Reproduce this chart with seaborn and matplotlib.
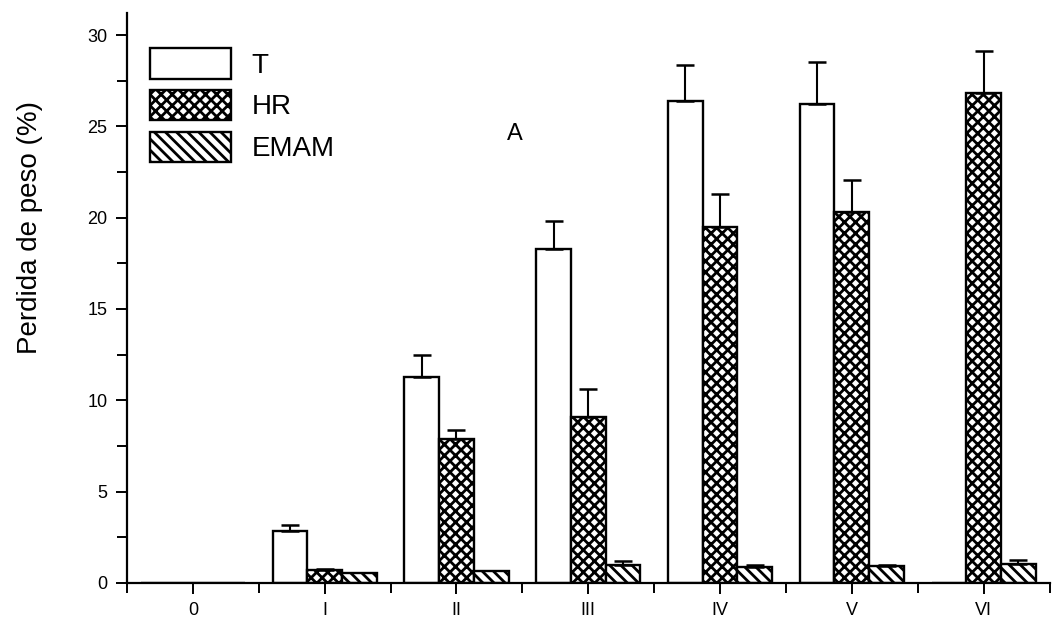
import matplotlib
matplotlib.use("Agg")
import matplotlib.pyplot as plt
import seaborn as sns
import pandas as pd
import numpy as np
from matplotlib.patches import Patch
from matplotlib.ticker import MultipleLocator

# Treatment stages and series
stages = ["0", "I", "II", "III", "IV", "V", "VI"]
series = ["T", "HR", "EMAM"]

# Mean weight loss (%) per stage
t_values = [0.0, 2.85, 11.25, 18.3, 26.4, 26.2, 0.0]
hr_values = [0.0, 0.7, 7.9, 9.1, 19.5, 20.3, 26.85]
emam_values = [0.0, 0.55, 0.65, 0.95, 0.85, 0.9, 1.05]

# Upper error (standard deviation)
t_err = [0.0, 0.3, 1.2, 1.5, 1.95, 2.3, 0.0]
hr_err = [0.0, 0.05, 0.45, 1.5, 1.8, 1.75, 2.25]
emam_err = [0.0, 0.0, 0.0, 0.25, 0.1, 0.1, 0.2]

values = {"T": t_values, "HR": hr_values, "EMAM": emam_values}
errors = {"T": t_err, "HR": hr_err, "EMAM": emam_err}
hatches = {"T": "", "HR": "xxx", "EMAM": "\\\\\\"}

df = pd.DataFrame(
    [(s, name, v) for name in series for s, v in zip(stages, values[name])],
    columns=["stage", "serie", "perdida"],
)

sns.set_style("ticks")
plt.rcParams["font.family"] = ["Liberation Sans", "DejaVu Sans"]
plt.rcParams["hatch.color"] = "black"
plt.rcParams["hatch.linewidth"] = 2.0
for key in ["text.color", "axes.labelcolor", "xtick.color", "ytick.color", "axes.edgecolor"]:
    plt.rcParams[key] = "black"

fig = plt.figure(figsize=(10.58, 6.24), dpi=100)
ax = fig.add_axes([0.120, 0.066, 0.872, 0.913])

sns.barplot(
    data=df, x="stage", y="perdida", hue="serie", order=stages, hue_order=series,
    palette=["white"] * 3, edgecolor="black", linewidth=1.7, errorbar=None,
    width=0.79, saturation=1, ax=ax, legend=False,
)

for container, name in zip(ax.containers, series):
    xs, ys = [], []
    for patch in container.patches:
        patch.set_hatch(hatches[name])
        xs.append(patch.get_x() + patch.get_width() / 2)
        ys.append(patch.get_height())
    err = np.array(errors[name])
    mask = err > 0
    ax.errorbar(
        np.array(xs)[mask], np.array(ys)[mask],
        yerr=[np.zeros(mask.sum()), err[mask]],
        fmt="none", ecolor="black", elinewidth=1.5, capsize=6.5, capthick=1.8,
        zorder=1,
    )

ax.set_xlim(-0.47, 6.45)
ax.set_ylim(0, 31.2)
ax.yaxis.set_major_locator(MultipleLocator(5))
ax.yaxis.set_minor_locator(MultipleLocator(2.5))
ax.set_xticks(range(len(stages)))
ax.set_xticks(np.arange(-0.5, len(stages), 1.0), minor=True)
ax.set_xticklabels(stages)

for side in ["top", "right"]:
    ax.spines[side].set_visible(False)
for side in ["left", "bottom"]:
    ax.spines[side].set_linewidth(1.6)

ax.tick_params(axis="both", which="both", direction="out", width=1.4, colors="black",
               labelsize=13)
ax.tick_params(axis="both", which="major", length=8, pad=6)
ax.tick_params(axis="both", which="minor", length=7)

ax.set_xlabel("")
ax.set_ylabel("Perdida de peso (%)", fontsize=20)
ax.yaxis.set_label_coords(-0.091, 0.623)

ax.text(0.420, 0.787, "A", transform=ax.transAxes, fontsize=17,
        ha="center", va="center")

handles = [
    Patch(facecolor="white", edgecolor="black", linewidth=1.7, hatch=hatches[n], label=n)
    for n in series
]
ax.legend(
    handles=handles, loc="upper left", bbox_to_anchor=(0.025, 0.938),
    frameon=False, fontsize=20, handlelength=2.9, handleheight=1.3,
    labelspacing=0.4, handletextpad=0.75, borderpad=0, borderaxespad=0,
)

fig.savefig("out.png", dpi=100, facecolor="white")
